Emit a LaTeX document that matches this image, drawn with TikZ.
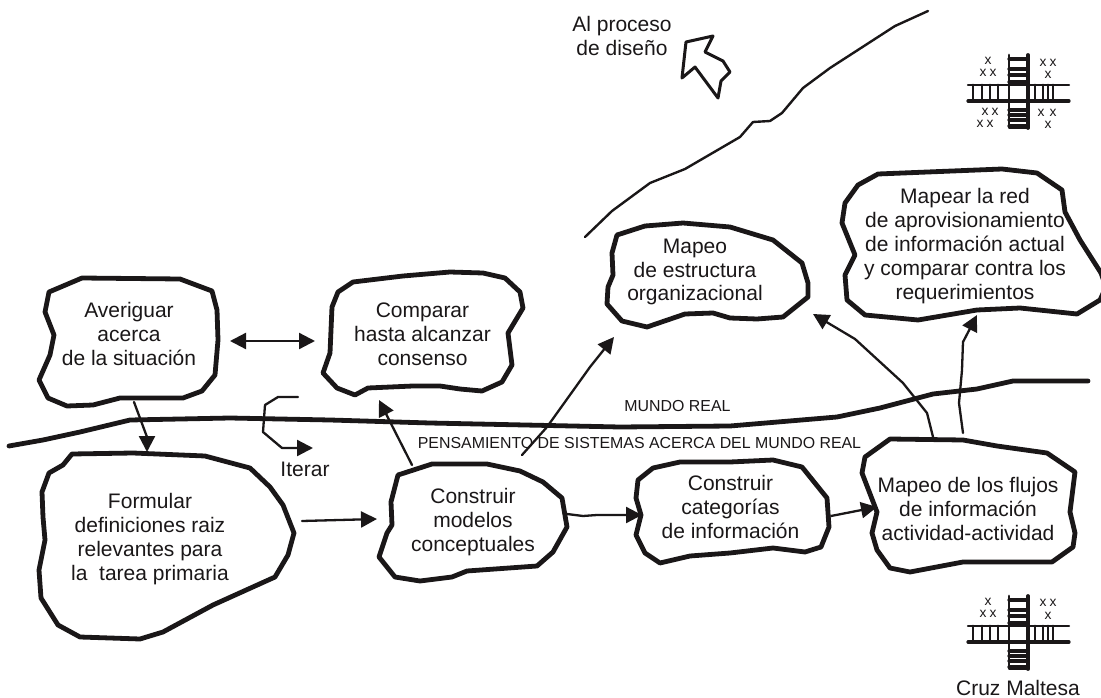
\documentclass[tikz,border=0pt]{standalone}
\usepackage{fontspec}
\setmainfont{Liberation Sans}
\usetikzlibrary{arrows.meta}
\definecolor{tinta}{HTML}{1A1718}
\newcommand{\cruzmaltesa}[2]{%
	\begin{scope}[shift={(#1,#2)}]
		\draw [line width=2.8pt,color=tinta] (0,0) -- (0,73) -- (19,73);
		\draw [line width=3.8pt,color=tinta] (19,0) -- (19,73);
		\draw [line width=2.4pt,color=tinta] (-41,30) -- (60,30);
		\draw [line width=3.2pt,color=tinta] (-41,46) -- (60,46);
		\foreach \i in {4,14,20,27,55,60,65,71}
			\draw [line width=3.2pt,color=tinta] (0,\i) -- (19,\i);
		\foreach \i in {-36,-27,-19,-11,26,34,39,44}
			\draw [line width=2.9pt,color=tinta] (\i,30) -- (\i,46);
		\fill [white] (1.4,31.4) rectangle (17.2,44.4);
		\draw [line width=1.2pt,color=tinta] (0,30) -- (0,46) (19,30) -- (19,46);
	\end{scope}}
\begin{document}
\begin{tikzpicture}[line cap=round,line join=round,x=1pt,y=-1pt,>={Triangle[length=16pt,width=16pt]},
	blob/.style={line width=4.8pt,color=tinta},
	flecha/.style={line width=2.3pt,color=tinta,->},
	texto/.style={align=center,text=tinta,inner sep=0pt,font=\fontsize{21}{23.8}\selectfont},
	rotulo/.style={text=tinta,inner sep=0pt,font=\fontsize{15.9}{18}\selectfont},
	equis/.style={text=tinta,inner sep=0pt,font=\fontsize{13.8}{14}\selectfont}]
		\useasboundingbox (0,0) rectangle (1101,698);
		\clip (0,0) rectangle (1101,698);
		\draw [blob] (82,278) -- (180,279) -- (212,291) -- (217,310) -- (218,340) -- (215,375) -- (202,391) -- (183,398) -- (120,398) -- (93,405) -- (67,406) -- (48,398) -- (39,380) -- (50,355) -- (54,335) -- (45,312) -- (49,292) -- cycle;
		\draw [blob] (72,454) -- (133,453) -- (205,456) -- (250,468) -- (270,487) -- (283,505) -- (294,533) -- (288,555) -- (275,577) -- (213,605) -- (163,632) -- (140,639) -- (80,637) -- (58,625) -- (41,598) -- (39,570) -- (45,540) -- (43,517) -- (42,492) -- (49,473) -- (63,465) -- cycle;
		\draw [blob] (353,282) -- (403,276) -- (450,272) -- (483,273) -- (505,278) -- (520,292) -- (523,308) -- (508,333) -- (512,365) -- (502,382) -- (482,391) -- (460,389) -- (440,386) -- (413,386) -- (368,388) -- (355,395) -- (337,388) -- (323,373) -- (330,353) -- (332,307) -- (338,292) -- cycle;
		\draw [blob] (398,475) -- (432,464) -- (487,464) -- (520,471) -- (543,482) -- (562,498) -- (567,527) -- (553,552) -- (537,566) -- (467,571) -- (452,577) -- (420,581) -- (395,577) -- (379,557) -- (387,533) -- (392,525) -- (391,502) -- cycle;
		\draw [blob] (680,462) -- (730,462) -- (773,460) -- (802,467) -- (827,498) -- (829,527) -- (821,547) -- (805,552) -- (773,548) -- (730,553) -- (690,556) -- (660,563) -- (645,553) -- (636,535) -- (641,515) -- (636,498) -- (638,480) -- (653,468) -- cycle;
		\draw [blob] (617,235) -- (645,226) -- (683,223) -- (730,227) -- (773,240) -- (802,263) -- (808,283) -- (808,297) -- (783,317) -- (757,319) -- (730,318) -- (713,313) -- (685,314) -- (647,327) -- (622,321) -- (607,304) -- (608,287) -- (613,275) -- (612,253) -- cycle;
		\draw [blob] (878,174) -- (1002,169) -- (1037,173) -- (1062,190) -- (1065,212) -- (1080,240) -- (1101,273) -- (1106,287) -- (1100,300) -- (1077,314) -- (1020,308) -- (977,310) -- (918,320) -- (865,315) -- (847,300) -- (845,275) -- (855,255) -- (842,223) -- (845,203) -- (858,185) -- cycle;
		\draw [blob] (890,439) -- (963,440) -- (997,446) -- (1047,453) -- (1075,472) -- (1070,512) -- (1075,533) -- (1073,547) -- (1052,562) -- (963,562) -- (910,572) -- (890,568) -- (877,550) -- (872,533) -- (877,512) -- (862,473) -- (865,457) -- cycle;
		\draw [blob] (9,446) -- (43,440) -- (80,432) -- (130,420) -- (230,418) -- (330,420) -- (430,423) -- (620,427) -- (730,426) -- (837,417) -- (880,408) -- (933,394) -- (977,389) -- (1013,381) -- (1088,381);
		\draw [line width=2.4pt,color=tinta] (585,237) -- (612,211) -- (650,183) -- (685,169) -- (740,137) -- (753,122) -- (770,121) -- (782,113) -- (803,88) -- (830,68) -- (895,26) -- (928,11);
		\draw [line width=3pt,color=tinta] (686,42) -- (713,36) -- (705,52) -- (723,61) -- (730,72) -- (721,81) -- (718,98) -- (695,67) -- (682,78) -- cycle;
		\cruzmaltesa{1009}{55}
		\cruzmaltesa{1009}{596}
		\node [texto] (averiguar) at (129,334) {Averiguar\\acerca\\de la situaci\'on};
		\node [texto] (comparar) at (422.5,334) {Comparar\\hasta alcanzar\\consenso};
		\node [texto] (formular) at (150,539) {Formular\\definiciones raiz\\relevantes para\\la\ \ tarea primaria};
		\node [texto] (construir) at (473,522) {Construir\\modelos\\conceptuales};
		\node [texto] (categorias) at (730.5,507) {Construir\\categor\'ias\\de informaci\'on};
		\node [texto] (flujos) at (968,509) {Mapeo de los flujos\\de informaci\'on\\actividad-actividad};
		\node [texto] (estructura) at (695,272) {Mapeo\\de estructura\\organizacional};
		\node [texto] (red) at (965,246) {Mapear la red\\de aprovisionamiento\\de informaci\'on actual\\y comparar contra los\\requerimientos};
		\node [texto] (proceso) at (622,36) {Al proceso\\de dise\~no};
		\node [texto] (iterar) at (305,469) {Iterar};
		\node [texto] (cruz) at (1018,687.5) {Cruz Maltesa};
		\node [rotulo] (mundo) at (677.5,406) {MUNDO REAL};
		\node [rotulo] (pensamiento) at (639.5,443) {PENSAMIENTO DE SISTEMAS ACERCA DEL MUNDO REAL};
		\foreach \a/\b [count=\i] in {988/61,983/73,993/73,1043/63,1053/63,1048/75,985/112,995/112,980/124,990/124,1041/113,1053/113,1048/125,988/602,983/614,993/614,1043/603,1053/603,1048/616}
			\node [equis] (equis\i) at (\a,\b) {x};
		\coordinate (averiguar-der) at (230,341);
		\coordinate (comparar-izq) at (315,341);
		\coordinate (averiguar-inf) at (134,402);
		\coordinate (averiguar-codo) at (147,437);
		\coordinate (formular-sup) at (147,452);
		\coordinate (iterar-ini) at (298,397);
		\coordinate (iterar-fin) at (313,448);
		\coordinate (formular-der) at (302,521);
		\coordinate (construir-izq) at (377,519);
		\coordinate (construir-sup) at (412,465);
		\coordinate (comparar-inf) at (379,400);
		\coordinate (construir-arr) at (522,455);
		\coordinate (estructura-inf) at (614,337);
		\coordinate (construir-der) at (567,514);
		\coordinate (categorias-izq) at (642,515);
		\coordinate (categorias-der) at (831,516);
		\coordinate (flujos-izq) at (877,507);
		\coordinate (flujos-sup) at (933,437);
		\coordinate (estructura-der) at (813,314);
		\coordinate (flujos-arr) at (963,433);
		\coordinate (red-inf) at (977,315);
		\draw [<->,line width=2.3pt,color=tinta] (averiguar-der) -- (comparar-izq);
		\draw [flecha] (averiguar-inf) -- (averiguar-codo) -- (formular-sup);
		\draw [flecha] (iterar-ini) -- (278,397) -- (265,405) -- (263,432) -- (282,448) -- (iterar-fin);
		\draw [flecha] (formular-der) -- (construir-izq);
		\draw [flecha] (construir-sup) -- (comparar-inf);
		\draw [flecha] (construir-arr) -- (547,427) -- (590,367) -- (estructura-inf);
		\draw [flecha] (construir-der) -- (583,516) -- (597,515) -- (categorias-izq);
		\draw [flecha] (categorias-der) -- (flujos-izq);
		\draw [flecha] (flujos-sup) -- (927,413) -- (903,383) -- (855,339) -- (estructura-der);
		\draw [flecha] (flujos-arr) -- (959,403) -- (962,370) -- (963,342) -- (red-inf);
\end{tikzpicture}
\end{document}
